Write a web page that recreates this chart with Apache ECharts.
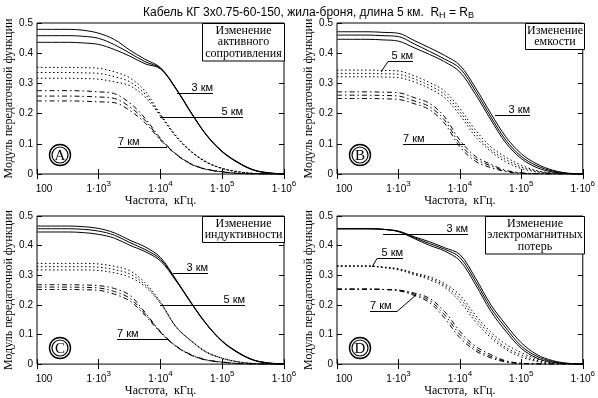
<!DOCTYPE html>
<html><head><meta charset="utf-8">
<script src="https://cdn.jsdelivr.net/npm/echarts@6/dist/echarts.min.js"></script>
<style>html,body{margin:0;padding:0;background:#fff}#c{width:598px;height:398px}</style>
</head><body><div id="c"></div>
<script>
// ---- data ----
const freq = [100, 180, 320, 560, 1000, 1800, 3200, 5600, 10000, 18000, 32000, 56000, 100000, 180000, 320000, 560000, 1000000];
const yTicks = [0, 0.1, 0.2, 0.3, 0.4, 0.5];

const A_3km_1 = [0.479, 0.479, 0.479, 0.476, 0.466, 0.445, 0.410, 0.380, 0.352, 0.282, 0.201, 0.129, 0.075, 0.039, 0.014, 0.004, 0];
const A_3km_2 = [0.458, 0.458, 0.458, 0.456, 0.449, 0.428, 0.400, 0.372, 0.350, 0.281, 0.200, 0.128, 0.074, 0.038, 0.013, 0.004, 0];
const A_3km_3 = [0.436, 0.436, 0.436, 0.434, 0.429, 0.412, 0.390, 0.365, 0.348, 0.280, 0.199, 0.127, 0.073, 0.037, 0.013, 0.003, 0];
const A_5km_1 = [0.353, 0.353, 0.353, 0.352, 0.350, 0.338, 0.318, 0.275, 0.198, 0.126, 0.074, 0.040, 0.019, 0.008, 0.002, 0, 0];
const A_5km_2 = [0.336, 0.336, 0.336, 0.335, 0.333, 0.322, 0.305, 0.265, 0.195, 0.124, 0.073, 0.039, 0.018, 0.007, 0.002, 0, 0];
const A_5km_3 = [0.317, 0.317, 0.317, 0.316, 0.314, 0.305, 0.292, 0.255, 0.192, 0.122, 0.072, 0.038, 0.018, 0.007, 0.002, 0, 0];
const A_7km_1 = [0.276, 0.276, 0.276, 0.275, 0.272, 0.266, 0.235, 0.185, 0.118, 0.066, 0.033, 0.016, 0.008, 0.002, 0, 0, 0];
const A_7km_2 = [0.258, 0.258, 0.258, 0.257, 0.255, 0.250, 0.222, 0.178, 0.115, 0.065, 0.032, 0.015, 0.007, 0.002, 0, 0, 0];
const A_7km_3 = [0.242, 0.242, 0.242, 0.241, 0.239, 0.236, 0.210, 0.170, 0.112, 0.064, 0.031, 0.015, 0.007, 0.002, 0, 0, 0];

const B_3km_1 = [0.471, 0.471, 0.471, 0.469, 0.466, 0.442, 0.418, 0.393, 0.360, 0.285, 0.200, 0.123, 0.067, 0.033, 0.013, 0.003, 0];
const B_3km_2 = [0.460, 0.460, 0.460, 0.458, 0.455, 0.431, 0.406, 0.381, 0.350, 0.274, 0.189, 0.112, 0.058, 0.027, 0.010, 0.002, 0];
const B_3km_3 = [0.446, 0.446, 0.446, 0.444, 0.440, 0.418, 0.396, 0.372, 0.338, 0.263, 0.179, 0.103, 0.051, 0.021, 0.007, 0.001, 0];
const B_5km_1 = [0.344, 0.344, 0.344, 0.343, 0.341, 0.325, 0.303, 0.275, 0.217, 0.145, 0.090, 0.056, 0.029, 0.011, 0.004, 0.001, 0];
const B_5km_2 = [0.333, 0.333, 0.333, 0.332, 0.330, 0.315, 0.293, 0.264, 0.206, 0.134, 0.080, 0.048, 0.023, 0.009, 0.003, 0.001, 0];
const B_5km_3 = [0.322, 0.322, 0.322, 0.321, 0.319, 0.305, 0.283, 0.253, 0.195, 0.123, 0.074, 0.040, 0.018, 0.007, 0.002, 0, 0];
const B_7km_1 = [0.272, 0.272, 0.272, 0.271, 0.269, 0.253, 0.234, 0.190, 0.112, 0.058, 0.032, 0.012, 0.004, 0.001, 0, 0, 0];
const B_7km_2 = [0.261, 0.261, 0.261, 0.260, 0.258, 0.242, 0.223, 0.179, 0.100, 0.050, 0.027, 0.010, 0.003, 0.001, 0, 0, 0];
const B_7km_3 = [0.250, 0.250, 0.250, 0.249, 0.247, 0.233, 0.213, 0.168, 0.090, 0.042, 0.021, 0.008, 0.002, 0.001, 0, 0, 0];

const C_3km_1 = [0.466, 0.466, 0.466, 0.464, 0.458, 0.443, 0.418, 0.396, 0.360, 0.284, 0.205, 0.135, 0.078, 0.040, 0.014, 0.004, 0];
const C_3km_2 = [0.457, 0.457, 0.457, 0.455, 0.449, 0.435, 0.410, 0.387, 0.354, 0.282, 0.204, 0.134, 0.077, 0.039, 0.014, 0.004, 0];
const C_3km_3 = [0.446, 0.446, 0.446, 0.444, 0.438, 0.425, 0.401, 0.380, 0.348, 0.280, 0.203, 0.133, 0.076, 0.038, 0.013, 0.003, 0];
const C_5km_1 = [0.340, 0.340, 0.340, 0.340, 0.338, 0.330, 0.315, 0.275, 0.210, 0.126, 0.078, 0.041, 0.020, 0.008, 0.002, 0, 0];
const C_5km_2 = [0.329, 0.329, 0.329, 0.329, 0.327, 0.319, 0.304, 0.268, 0.207, 0.125, 0.077, 0.040, 0.020, 0.008, 0.002, 0, 0];
const C_5km_3 = [0.318, 0.318, 0.318, 0.318, 0.316, 0.308, 0.293, 0.262, 0.204, 0.124, 0.076, 0.039, 0.019, 0.007, 0.002, 0, 0];
const C_7km_1 = [0.268, 0.268, 0.268, 0.267, 0.265, 0.255, 0.232, 0.175, 0.110, 0.061, 0.031, 0.014, 0.007, 0.002, 0, 0, 0];
const C_7km_2 = [0.260, 0.260, 0.260, 0.259, 0.257, 0.245, 0.222, 0.170, 0.108, 0.060, 0.030, 0.014, 0.007, 0.002, 0, 0, 0];
const C_7km_3 = [0.252, 0.252, 0.252, 0.251, 0.249, 0.236, 0.213, 0.165, 0.106, 0.059, 0.029, 0.013, 0.006, 0.002, 0, 0, 0];

const D_3km_1 = [0.457, 0.457, 0.457, 0.455, 0.449, 0.430, 0.413, 0.393, 0.370, 0.290, 0.200, 0.133, 0.072, 0.032, 0.012, 0.003, 0];
const D_3km_2 = [0.457, 0.457, 0.457, 0.455, 0.448, 0.427, 0.407, 0.388, 0.360, 0.279, 0.189, 0.122, 0.061, 0.026, 0.009, 0.002, 0];
const D_3km_3 = [0.457, 0.457, 0.457, 0.455, 0.447, 0.424, 0.401, 0.382, 0.349, 0.268, 0.178, 0.111, 0.053, 0.020, 0.006, 0.001, 0];
const D_5km_1 = [0.331, 0.331, 0.331, 0.328, 0.322, 0.308, 0.295, 0.272, 0.233, 0.165, 0.108, 0.067, 0.039, 0.017, 0.006, 0.001, 0];
const D_5km_2 = [0.331, 0.331, 0.331, 0.327, 0.320, 0.305, 0.290, 0.266, 0.222, 0.154, 0.098, 0.056, 0.031, 0.012, 0.004, 0.001, 0];
const D_5km_3 = [0.331, 0.331, 0.331, 0.326, 0.318, 0.302, 0.285, 0.260, 0.211, 0.143, 0.089, 0.050, 0.024, 0.009, 0.003, 0.001, 0];
const D_7km_1 = [0.253, 0.253, 0.253, 0.252, 0.250, 0.240, 0.222, 0.178, 0.111, 0.060, 0.032, 0.011, 0.003, 0.001, 0, 0, 0];
const D_7km_2 = [0.253, 0.253, 0.253, 0.252, 0.249, 0.236, 0.215, 0.167, 0.100, 0.052, 0.026, 0.009, 0.002, 0.001, 0, 0, 0];
const D_7km_3 = [0.253, 0.253, 0.253, 0.252, 0.248, 0.232, 0.208, 0.156, 0.089, 0.045, 0.021, 0.007, 0.002, 0.001, 0, 0, 0];

const panelLetters = ['A', 'B', 'C', 'D'];
const panelNotes = [
  ['Изменение', 'активного', 'сопротивления'],
  ['Изменение', 'емкости'],
  ['Изменение', 'индуктивности'],
  ['Изменение', 'электромагнитных', 'потерь']
];
const lengthLabels = ['3 км', '5 км', '7 км'];
const titleText = 'Кабель КГ 3x0.75-60-150, жила-броня, длина 5 км.  R{sub|Н} = R{sub|В}';
const xName = 'Частота,  кГц.';
const yName = 'Модуль передаточной функции';

// ---- layout / styles ----
const SANS = 'Liberation Sans', SERIF = 'Liberation Serif';
const G = [[37, 23], [337, 23], [37, 216], [337, 216]];
const W = 247, H = 151;
const panels = [
  [[A_3km_1, A_3km_2, A_3km_3], [A_5km_1, A_5km_2, A_5km_3], [A_7km_1, A_7km_2, A_7km_3]],
  [[B_3km_1, B_3km_2, B_3km_3], [B_5km_1, B_5km_2, B_5km_3], [B_7km_1, B_7km_2, B_7km_3]],
  [[C_3km_1, C_3km_2, C_3km_3], [C_5km_1, C_5km_2, C_5km_3], [C_7km_1, C_7km_2, C_7km_3]],
  [[D_3km_1, D_3km_2, D_3km_3], [D_5km_1, D_5km_2, D_5km_3], [D_7km_1, D_7km_2, D_7km_3]]
];
const dashTypes = ['solid', [1.5, 2.5], [5, 3, 1.5, 3]];

const grids = [], xAxes = [], yAxes = [], series = [];
G.forEach(([l, t], p) => {
  grids.push({left: l, top: t, width: W, height: H, show: true, borderColor: '#000', borderWidth: 1, backgroundColor: 'transparent'});
  const tick = {show: true, inside: true, length: 5, lineStyle: {color: '#000', width: 1}};
  xAxes.push({
    type: 'log', logBase: 10, min: 100, max: 1000000, gridIndex: p, position: 'bottom',
    axisLine: {show: false}, axisTick: tick, splitLine: {show: false},
    name: xName, nameLocation: 'middle', nameGap: 15,
    nameTextStyle: {fontFamily: SERIF, fontSize: 12, color: '#000', verticalAlign: 'top'},
    axisLabel: {
      color: '#000', fontFamily: SANS, fontSize: 10, margin: 6,
      formatter: v => v <= 100 ? '{h|100}' : '{b|1·10}{s|' + Math.round(Math.log10(v)) + '}',
      rich: {
        h: {fontFamily: SANS, fontSize: 10, color: '#000', padding: [0, 0, 0, 14], lineHeight: 14, verticalAlign: 'bottom'},
        b: {fontFamily: SANS, fontSize: 10, color: '#000', lineHeight: 14, verticalAlign: 'bottom'},
        s: {fontFamily: SANS, fontSize: 8, color: '#000', lineHeight: 8, verticalAlign: 'top'}
      }
    }
  });
  xAxes.push({
    type: 'log', logBase: 10, min: 100, max: 1000000, gridIndex: p, position: 'top',
    axisLine: {show: false}, axisTick: tick, axisLabel: {show: false}, splitLine: {show: false}
  });
  yAxes.push({
    type: 'value', min: 0, max: 0.5, interval: 0.1, gridIndex: p, position: 'left',
    axisLine: {show: false}, axisTick: tick, splitLine: {show: false},
    name: yName, nameLocation: 'middle', nameGap: 22, nameRotate: 90,
    nameTextStyle: {fontFamily: SERIF, fontSize: 12, color: '#000'},
    axisLabel: {color: '#000', fontFamily: SANS, fontSize: 10, margin: 4,
      formatter: v => yTicks.includes(+v.toFixed(1)) ? (v === 0 ? '0' : v.toFixed(1)) : ''}
  });
  yAxes.push({
    type: 'value', min: 0, max: 0.5, interval: 0.1, gridIndex: p, position: 'right',
    axisLine: {show: false}, axisTick: tick, axisLabel: {show: false}, splitLine: {show: false}
  });
  panels[p].forEach((group, li) => {
    group.forEach((arr) => {
      series.push({
        type: 'line', xAxisIndex: p * 2, yAxisIndex: p * 2, showSymbol: false, silent: true,
        smooth: 0.35,
        lineStyle: {color: '#000', width: 1, type: dashTypes[li]},
        data: freq.map((f, i) => [f, arr[i]])
      });
    });
  });
});

// ---- annotations (pixel positions) ----
const graphic = [];
const lineEl = (x1, y1, x2, y2) => ({type: 'line', shape: {x1, y1, x2, y2}, style: {stroke: '#000', lineWidth: 1}, z: 100});
const textEl = (x, y, text, align, font, size) => ({type: 'text', x, y, z: 101,
  style: {text, fill: '#000', font: size + 'px "' + font + '"', textAlign: align, textVerticalAlign: 'bottom'}});

G.forEach(([l, t], p) => {
  const lines = panelNotes[p];
  const bw = [82, 59, 82, 99][p];
  const bh = lines.length * 11.5 + 3;
  graphic.push({type: 'rect', shape: {x: l + W - bw + 0.5, y: t + 0.5, width: bw, height: bh},
    style: {fill: '#fff', stroke: '#000', lineWidth: 1}, z: 100});
  graphic.push({type: 'text', x: l + W - bw / 2 + 0.5, y: t + 2, z: 101,
    style: {text: lines.join('\n'), fill: '#000', font: '12px "' + SERIF + '"', textAlign: 'center', textVerticalAlign: 'top', lineHeight: 11.5}});
  const cx = l + 23, cy = t + 132;
  graphic.push({type: 'circle', shape: {cx, cy, r: 10.5}, style: {fill: '#fff', stroke: '#000', lineWidth: 1.4}, z: 100});
  graphic.push({type: 'circle', shape: {cx, cy, r: 8}, style: {fill: 'none', stroke: '#000', lineWidth: 1.2}, z: 100});
  graphic.push({type: 'text', x: cx, y: cy + 1, z: 101,
    style: {text: panelLetters[p], fill: '#000', font: '15px "' + SERIF + '"', textAlign: 'center', textVerticalAlign: 'middle'}});
});

// length labels: [lineX1, lineX2, lineY, textX, align, labelIndex, leader]
const kmLabels = [
  [177, 213, 93.5, 213, 'right', 0],
  [160, 243, 117.5, 243, 'right', 1],
  [118, 167, 147.5, 118, 'left', 2],
  [388, 413, 61.5, 413, 'right', 1, [388, 61.5, 381, 72]],
  [495, 530, 115.5, 530, 'right', 0],
  [403, 465, 144.5, 403, 'left', 2],
  [173, 208, 273.5, 208, 'right', 0],
  [160, 245, 305.5, 245, 'right', 1],
  [117, 168, 339.5, 117, 'left', 2],
  [383, 468, 234.5, 468, 'right', 0],
  [377, 403, 258.5, 403, 'right', 1, [377, 258.5, 372, 267]],
  [370, 397, 311.5, 370, 'left', 2, [397, 311.5, 416, 295]]
];
kmLabels.forEach(([x1, x2, y, tx, al, li, leader]) => {
  graphic.push(lineEl(x1, y, x2, y));
  if (leader) graphic.push(lineEl(leader[0], leader[1], leader[2], leader[3]));
  graphic.push(textEl(tx, y - 0.5, lengthLabels[li], al, SANS, 11));
});

const chart = echarts.init(document.getElementById('c'), null, {renderer: 'canvas'});
chart.setOption({
  animation: false,
  backgroundColor: '#fff',
  title: {
    text: titleText, left: 138, top: 1,
    textStyle: {fontFamily: SANS, fontSize: 12, fontWeight: 'normal', color: '#000',
      rich: {
        sub: {fontFamily: SANS, fontSize: 9, color: '#000', lineHeight: 8, verticalAlign: 'bottom'}
      }, lineHeight: 14, verticalAlign: 'top'}
  },
  grid: grids, xAxis: xAxes, yAxis: yAxes, series, graphic
});
</script></body></html>
